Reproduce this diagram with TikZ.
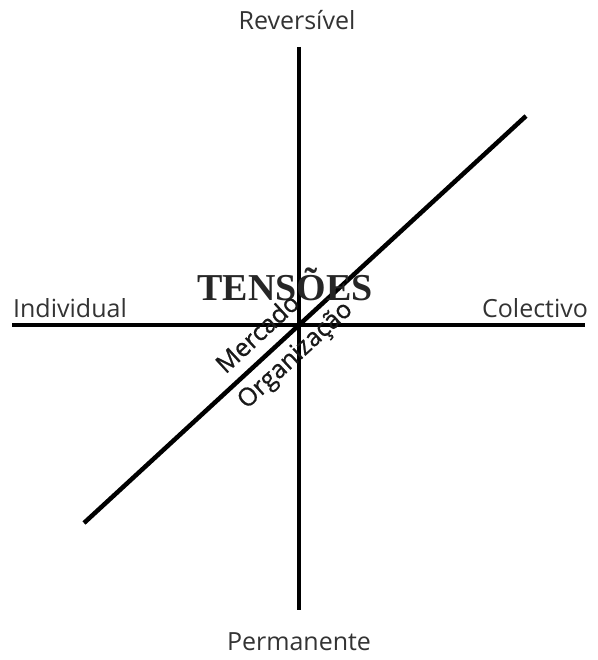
\documentclass[tikz,border=0pt]{standalone}
\usepackage{fontspec}
\setmainfont{Open Sans}
\newfontfamily\titlefont{Liberation Serif}
\newfontfamily\tagfont[FakeBold=0.8]{Open Sans}
\usetikzlibrary{positioning,calc}

\begin{document}
\begin{tikzpicture}[x=1pt, y=-1pt, font=\fontsize{25}{27}\selectfont]
\tikzset{
  axis/.style={line width=4.5pt, black},
  pole/.style={text=black!80, inner sep=0pt},
  tag/.style={text=black!90, inner sep=0pt, rotate=42.6, font=\tagfont\fontsize{25}{27}\selectfont}
}
\useasboundingbox (0,0) rectangle (597,660);
% ends of the three axes
\coordinate (top) at (299,47);
\coordinate (bottom) at (299,610);
\coordinate (left) at (12,325);
\coordinate (right) at (585,325);
\coordinate (low) at (84,523);
\coordinate (high) at (526,116);
\draw[axis] (top) -- (bottom);
\draw[axis] (left) -- (right);
\draw[axis] (low) -- (high);
% pole labels
\node[pole] (rev) at (297,20) {Reversível};
\node[pole] (perm) at (299,642) {Permanente};
\node[pole] (ind) at (70,308) {Individual};
\node[pole] (col) at (535,308) {Colectivo};
\node[inner sep=0pt, font=\titlefont\bfseries\fontsize{38}{40}\selectfont, text=black!85] (tens) at (285,284) {TENSÕES};
\node[tag] (merc) at (257,333) {Mercado};
\node[tag] (org) at (296,356) {Organização};
\end{tikzpicture}
\end{document}
